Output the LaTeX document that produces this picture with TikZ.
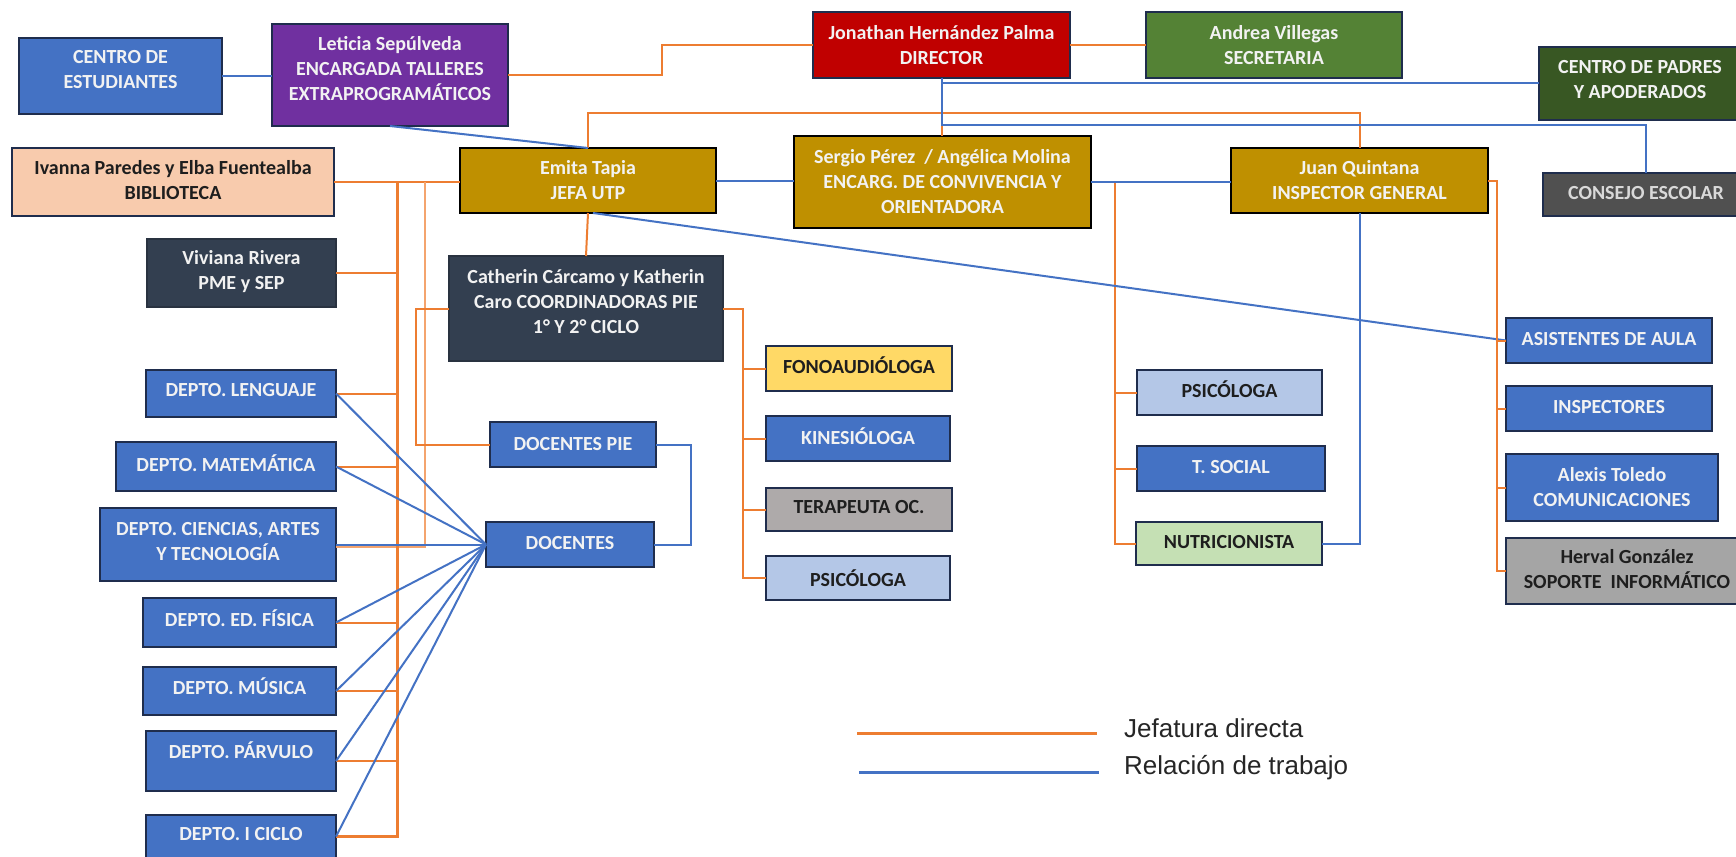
\documentclass[tikz,border=0pt]{standalone}
\usepackage{fontspec}
\setmainfont{Carlito}
\newfontfamily\legfont{Liberation Sans}
\usetikzlibrary{calc}
\definecolor{cBlue}{HTML}{4472C4}
\definecolor{cPurple}{HTML}{7030A0}
\definecolor{cRed}{HTML}{C00000}
\definecolor{cGreen}{HTML}{548235}
\definecolor{cDkGreen}{HTML}{385723}
\definecolor{cConsejo}{HTML}{505050}
\definecolor{cGold}{HTML}{BF9000}
\definecolor{cPeach}{HTML}{F8CBAD}
\definecolor{cSlate}{HTML}{333F50}
\definecolor{cYellow}{HTML}{FFD966}
\definecolor{cGreyA}{HTML}{AEAAAA}
\definecolor{cLtBlue}{HTML}{B4C7E7}
\definecolor{cLtGreen}{HTML}{C5E0B4}
\definecolor{cGreyB}{HTML}{A5A5A5}
\definecolor{cBorder}{HTML}{1F2D4D}
\definecolor{cOrange}{HTML}{ED7D31}
\definecolor{cOrangeLt}{HTML}{F4A46E}
\definecolor{cLine}{HTML}{4472C4}
\definecolor{cWhiteTxt}{HTML}{F2F2F2}
\definecolor{cDarkTxt}{HTML}{1E1E1E}
\definecolor{cLegTxt}{HTML}{262626}
% name, x1, y1, x2, y2, box style, text style, upward shift, text
\newcommand\bx[9]{%
  \node[#6, minimum width={(#4)-(#2)}, minimum height={(#5)-(#3)}] (#1) at ({((#2)+(#4))/2},{((#3)+(#5))/2}) {};
  \node[#7] (#1-t) at ({((#2)+(#4))/2},{((#3)+(#5))/2-(#8)}) {#9};}
\tikzset{
  boxbase/.style={rectangle, inner sep=0pt, outer sep=0pt, draw=cBorder, line width=1.6pt},
  bluebox/.style={boxbase, fill=cBlue},
  purplebox/.style={boxbase, fill=cPurple},
  redbox/.style={boxbase, fill=cRed},
  greenbox/.style={boxbase, fill=cGreen},
  dkgreenbox/.style={boxbase, fill=cDkGreen},
  consejobox/.style={boxbase, fill=cConsejo},
  goldbox/.style={boxbase, fill=cGold, draw=black, line width=2pt},
  peachbox/.style={boxbase, fill=cPeach},
  slatebox/.style={boxbase, fill=cSlate, draw=cSlate!80!black},
  yellowbox/.style={boxbase, fill=cYellow},
  greyabox/.style={boxbase, fill=cGreyA},
  ltbluebox/.style={boxbase, fill=cLtBlue},
  ltgreenbox/.style={boxbase, fill=cLtGreen},
  greybbox/.style={boxbase, fill=cGreyB},
  txtbase/.style={inner sep=0pt, align=center, font=\bfseries\fontsize{20}{25}\selectfont},
  wtxt/.style={txtbase, text=cWhiteTxt},
  dtxt/.style={txtbase, text=cDarkTxt},
  gtxt/.style={txtbase, text=black!15},
  oline/.style={draw=cOrange, line width=2pt},
  othick/.style={draw=cOrange, line width=3pt},
  olight/.style={draw=cOrangeLt, line width=2.5pt},
  bline/.style={draw=cLine, line width=2pt},
  legtxt/.style={inner sep=0pt, anchor=base west, text=cLegTxt, font=\legfont\fontsize{26}{30}\selectfont}
}
\begin{document}
\begin{tikzpicture}[x=1pt,y=-1pt]
\useasboundingbox (0,0) rectangle (1736,856);
\clip (0,0) rectangle (1736,856);
\fill[white] (0,0) rectangle (1736,856);

% ---------- boxes ----------
\bx{ce}{19}{38}{222}{114}{bluebox}{wtxt}{6}{CENTRO DE\\ESTUDIANTES}
\bx{let}{272}{24}{508}{126}{purplebox}{wtxt}{6}{Leticia Sepúlveda\\ENCARGADA TALLERES\\EXTRAPROGRAMÁTICOS}
\bx{dir}{813}{12}{1070}{78}{redbox}{wtxt}{0}{Jonathan Hernández Palma\\DIRECTOR}
\bx{and}{1146}{12}{1402}{78}{greenbox}{wtxt}{0}{Andrea Villegas\\SECRETARIA}
\bx{cpa}{1539}{47}{1741}{120}{dkgreenbox}{wtxt}{4}{CENTRO DE PADRES\\Y APODERADOS}
\bx{cons}{1543}{173}{1749}{216}{consejobox}{gtxt}{1}{CONSEJO ESCOLAR}
\bx{bib}{12}{148}{334}{216}{peachbox}{dtxt}{2}{Ivanna Paredes y Elba Fuentealba\\BIBLIOTECA}
\bx{utp}{460}{148}{716}{213}{goldbox}{wtxt}{0}{Emita Tapia\\JEFA UTP}
\bx{ser}{794}{136}{1091}{228}{goldbox}{wtxt}{0}{Sergio Pérez~~/ Angélica Molina\\ENCARG. DE CONVIVENCIA Y\\ORIENTADORA}
\bx{jq}{1231}{148}{1488}{213}{goldbox}{wtxt}{0}{Juan Quintana\\INSPECTOR GENERAL}
\bx{vr}{147}{239}{336}{307}{slatebox}{wtxt}{1.5}{Viviana Rivera\\PME y SEP}
\bx{cat}{449}{256}{723}{361}{slatebox}{wtxt}{6.5}{Catherin Cárcamo y Katherin\\Caro COORDINADORAS PIE\\1° Y 2° CICLO}
\bx{len}{146}{370}{336}{417}{bluebox}{wtxt}{3.5}{DEPTO. LENGUAJE}
\bx{mat}{116}{442}{336}{491}{bluebox}{wtxt}{3.5}{DEPTO. MATEMÁTICA}
\bx{cie}{100}{508}{336}{581}{bluebox}{wtxt}{3}{DEPTO. CIENCIAS, ARTES\\Y TECNOLOGÍA}
\bx{fis}{143}{598}{336}{647}{bluebox}{wtxt}{4}{DEPTO. ED. FÍSICA}
\bx{mus}{143}{667}{336}{715}{bluebox}{wtxt}{5}{DEPTO. MÚSICA}
\bx{par}{146}{731}{336}{791}{bluebox}{wtxt}{11}{DEPTO. PÁRVULO}
\bx{icic}{146}{815}{336}{858}{bluebox}{wtxt}{2.5}{DEPTO. I CICLO}
\bx{dpie}{490}{422}{656}{467}{bluebox}{wtxt}{0.5}{DOCENTES PIE}
\bx{doc}{486}{522}{654}{567}{bluebox}{wtxt}{1.5}{DOCENTES}
\bx{fono}{766}{346}{952}{391}{yellowbox}{dtxt}{3}{FONOAUDIÓLOGA}
\bx{kine}{766}{416}{950}{461}{bluebox}{wtxt}{2}{KINESIÓLOGA}
\bx{ter}{766}{488}{952}{531}{greyabox}{dtxt}{2}{TERAPEUTA OC.}
\bx{psl}{766}{556}{950}{600}{ltbluebox}{dtxt}{0}{PSICÓLOGA}
\bx{psr}{1137}{370}{1322}{415}{ltbluebox}{dtxt}{3}{PSICÓLOGA}
\bx{ts}{1137}{446}{1325}{491}{bluebox}{wtxt}{1.5}{T. SOCIAL}
\bx{nut}{1136}{522}{1322}{565}{ltgreenbox}{dtxt}{1.5}{NUTRICIONISTA}
\bx{asi}{1506}{318}{1712}{363}{bluebox}{wtxt}{1.5}{ASISTENTES DE AULA}
\bx{insp}{1506}{386}{1712}{431}{bluebox}{wtxt}{1.5}{INSPECTORES}
\bx{alx}{1506}{454}{1718}{521}{bluebox}{wtxt}{0.5}{Alexis Toledo\\COMUNICACIONES}
\bx{her}{1506}{538}{1748}{604}{greybbox}{dtxt}{1.5}{Herval González\\SOPORTE~~INFORMÁTICO}

% ---------- connectors ----------
\coordinate (tk) at (397,0);
\coordinate (tk2) at (425,0);
% top row
\draw[bline] (ce.east) -- (ce.east -| let.west);
\draw[oline] (let.east) -- (let.east -| 662,0) |- (dir.west);
\draw[oline] (dir.east) -- (and.west);
% orange bus from director
\draw[oline] (dir.south) -- (dir.south |- ser.north);
\draw[oline] (utp.north) -- ++(0,-35) -| (jq.north);
% blue links from director
\draw[bline] (dir.south) |- (cpa.west);
\draw[bline] (dir.south) -- ++(0,47) -| (cons.north);
% Leticia - UTP
\draw[bline] (let.south) -- (utp.north);
% UTP - Sergio - Juan
\draw[bline] (utp.east) -- (utp.east -| ser.west);
\draw[oline] (ser.east) -- ++(24,0) |- (nut.west);
\draw[oline] (psr.west) -- ++(-22,0);
\draw[oline] (ts.west) -- ++(-22,0);
\draw[bline] (ser.east) -- (ser.east -| jq.west);
% blue diagonal UTP - asistentes
\draw[bline] ([xshift=5pt]utp.south) -- (asi.west);
% UTP - Catherin
\draw[oline] (utp.south) -- (cat.north);
% Biblioteca - UTP and trunks
\draw[oline] (bib.east) -- (bib.east -| utp.west);
\draw[olight] (bib.east -| tk2) -- ([yshift=-2pt]cie.east -| tk2) -- ([yshift=-2pt]cie.east);
\draw[othick] (bib.east -| tk) -- (icic.east -| tk) -- (icic.east);
\foreach \n in {vr,len,mat,fis,mus,par}
  \draw[oline] (\n.east) -- (\n.east -| tk);
% Catherin branches
\draw[oline] (cat.west) -- ++(-33,0) |- (dpie.west);
\draw[oline] (cat.east) -- ++(20,0) |- (psl.west);
\foreach \n in {fono,kine,ter}
  \draw[oline] (\n.west) -- ++(-23,0);
% docentes
\draw[bline] (dpie.east) -- ++(35,0) |- (doc.east);
\foreach \n in {len,mat,cie,fis,mus,par,icic}
  \draw[bline] (\n.east) -- (doc.west);
% Juan Quintana branches
\draw[oline] (jq.east) -- ++(9,0) |- (her.west);
\foreach \n in {asi,insp,alx}
  \draw[oline] (\n.west) -- ++(-9,0);
\draw[bline] (jq.south) |- (nut.east);

% ---------- legend ----------
\coordinate (lo1) at (857,733);
\coordinate (lo2) at (1097,733);
\coordinate (lb1) at (859,772);
\coordinate (lb2) at (1099,772);
\draw[cOrange, line width=3pt] (lo1) -- (lo2);
\draw[cLine, line width=3pt] (lb1) -- (lb2);
\node[legtxt] (leg1) at (1124,737) {Jefatura directa};
\node[legtxt] (leg2) at (1124,774) {Relación de trabajo};
\end{tikzpicture}
\end{document}
